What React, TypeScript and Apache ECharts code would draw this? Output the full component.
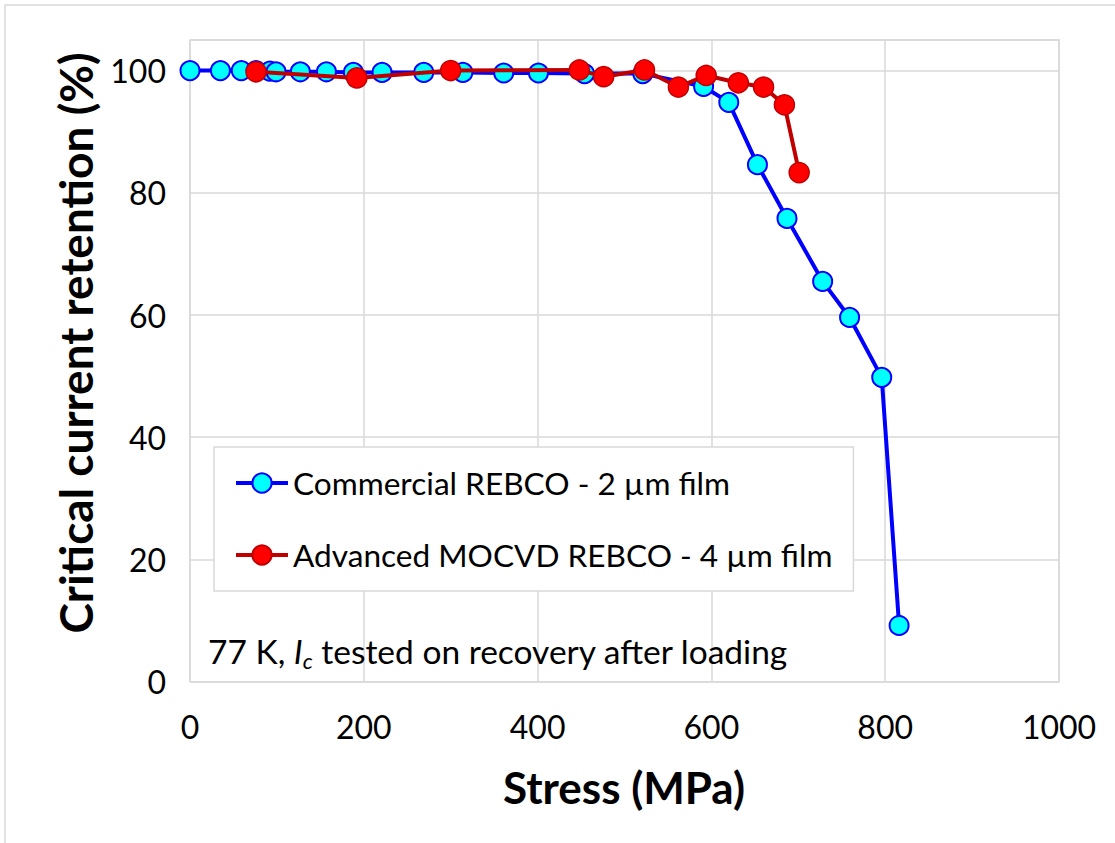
import React, { useEffect, useRef } from "react";
import * as echarts from "echarts";

// Stress (MPa) and critical current retention (%) for each conductor
const commercialStress = [0, 35, 59, 76, 92, 99, 127, 157, 188, 221, 269, 314, 361, 401, 454, 521, 591, 620, 653, 687, 728, 759, 796, 816];
const commercialRetention = [100, 100, 100, 100, 99.9, 99.8, 99.8, 99.8, 99.7, 99.7, 99.7, 99.7, 99.6, 99.6, 99.5, 99.5, 97.4, 94.8, 84.6, 75.8, 65.5, 59.6, 49.8, 9.2];

const mocvdStress = [76, 192, 300, 448, 476, 523, 562, 594, 631, 660, 684, 701];
const mocvdRetention = [99.8, 98.8, 100, 100.1, 99.0, 100.1, 97.3, 99.2, 98.0, 97.3, 94.4, 83.3];

const seriesNames = ["Commercial REBCO - 2 µm film", "Advanced MOCVD REBCO - 4 µm film"];

const xTicks = { min: 0, max: 1000, interval: 200 };
const yTicks = { min: 0, max: 105, interval: 20 };

const FONT = "Lato, 'Open Sans', sans-serif";
const GRID_GRAY = "#d9d9d9";

export default function App() {
  const ref = useRef<HTMLDivElement>(null);

  useEffect(() => {
    if (!ref.current) return;
    const chart = echarts.init(ref.current, null, { renderer: "svg" });

    const pairs = (xs: number[], ys: number[]) => xs.map((x, i) => [x, ys[i]]);

    chart.setOption({
      animation: false,
      backgroundColor: "#ffffff",
      textStyle: { fontFamily: FONT },
      grid: {
        left: 190,
        top: 40,
        right: 56,
        bottom: 161.3,
        show: true,
        borderColor: GRID_GRAY,
        borderWidth: 1.5,
      },
      xAxis: {
        type: "value",
        min: xTicks.min,
        max: xTicks.max,
        interval: xTicks.interval,
        axisLine: { show: false },
        axisTick: { show: false },
        splitLine: { lineStyle: { color: GRID_GRAY, width: 1.5 } },
        axisLabel: {
          color: "#000",
          fontSize: 32,
          fontFamily: FONT,
          lineHeight: 32,
          margin: 29,
          formatter: (v: number) => String(v),
        },
      },
      yAxis: {
        type: "value",
        min: yTicks.min,
        max: yTicks.max,
        interval: yTicks.interval,
        axisLine: { show: false },
        axisTick: { show: false },
        splitLine: { lineStyle: { color: GRID_GRAY, width: 1.5 } },
        axisLabel: {
          color: "#000",
          fontSize: 32,
          fontFamily: FONT,
          margin: 24,
          showMaxLabel: false,
          formatter: (v: number) => (v > 100 ? "" : String(v)),
        },
      },
      legend: {
        orient: "vertical",
        left: 214,
        top: 447,
        padding: [16, 21, 16, 20],
        itemGap: 32,
        itemWidth: 52,
        itemHeight: 24,
        borderColor: GRID_GRAY,
        borderWidth: 1.5,
        backgroundColor: "#ffffff",
        lineStyle: { width: 4 },
        textStyle: { color: "#000", fontSize: 31.6, fontFamily: FONT, lineHeight: 40 },
        data: seriesNames,
      },
      series: [
        {
          name: seriesNames[0],
          type: "line",
          data: pairs(commercialStress, commercialRetention),
          symbol: "circle",
          symbolSize: 19,
          lineStyle: { color: "#0000ff", width: 4 },
          itemStyle: { color: "#00ffff", borderColor: "#0000ff", borderWidth: 2 },
          z: 3,
        },
        {
          name: seriesNames[1],
          type: "line",
          data: pairs(mocvdStress, mocvdRetention),
          symbol: "circle",
          symbolSize: 20,
          lineStyle: { color: "#c00000", width: 4 },
          itemStyle: { color: "#ff0000", borderColor: "#c00000", borderWidth: 1.5 },
          z: 4,
        },
      ],
      graphic: [
        {
          type: "rect",
          shape: { x: 5, y: 5, width: 1300, height: 1000 },
          style: { fill: "none", stroke: GRID_GRAY, lineWidth: 1.5 },
          silent: true,
          z: 0,
        },
        {
          type: "text",
          x: 624,
          y: 787,
          style: {
            text: "Stress (MPa)",
            fontSize: 44,
            fontWeight: "bold",
            fontFamily: FONT,
            fill: "#000",
            align: "center",
            verticalAlign: "middle",
          },
        },
        {
          type: "text",
          x: 75,
          y: 343,
          rotation: Math.PI / 2,
          style: {
            text: "Critical current retention (%)",
            fontSize: 46,
            fontWeight: "bold",
            fontFamily: FONT,
            fill: "#000",
            align: "center",
            verticalAlign: "middle",
          },
        },
        {
          type: "text",
          x: 208,
          y: 651,
          style: {
            text: "77 K, {i|I}{sub|c} tested on recovery after loading",
            fontSize: 33.5,
            fontFamily: FONT,
            fill: "#000",
            align: "left",
            verticalAlign: "middle",
            lineHeight: 40,
            rich: {
              i: { fontSize: 33.5, fontStyle: "italic", fontFamily: FONT, lineHeight: 40 },
              sub: {
                fontSize: 22,
                fontStyle: "italic",
                fontFamily: FONT,
                lineHeight: 22,
                verticalAlign: "bottom",
              },
            },
          },
          z: 5,
        },
      ],
    });

    return () => chart.dispose();
  }, []);

  return (
    <div
      ref={ref}
      style={{ position: "absolute", left: 0, top: 0, width: 1115, height: 843 }}
    />
  );
}
